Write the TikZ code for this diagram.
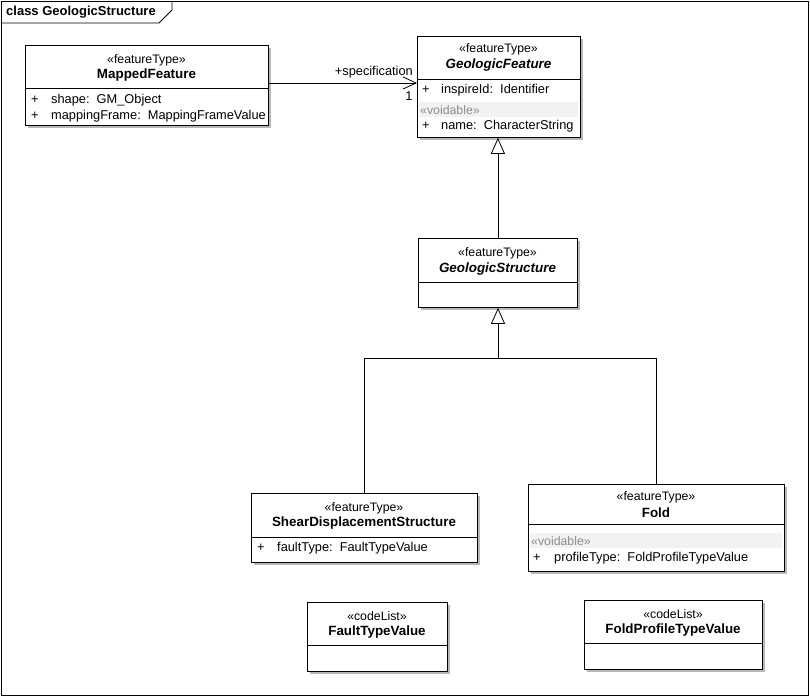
\documentclass[tikz,border=0pt]{standalone}
\usepackage{fontspec}
\setmainfont{Liberation Sans}
\usetikzlibrary{arrows.meta,shadows}
\begin{document}
\begin{tikzpicture}[x=1pt,y=-1pt,
  box/.style={draw=black, line width=0.8pt, fill=white, anchor=north west, inner sep=0pt,
    drop shadow={shadow xshift=3pt, shadow yshift=-3pt, fill=black!28, opacity=1}},
  txt/.style={inner sep=0pt, font=\fontsize{12.8}{14}\selectfont},
  ster/.style={inner sep=0pt, font=\fontsize{12.3}{14}\selectfont},
  cname/.style={txt, font=\fontsize{13.4}{15}\selectfont\bfseries},
  aname/.style={txt, font=\fontsize{13.4}{15}\selectfont\bfseries\itshape},
  attr/.style={txt, anchor=west},
  void/.style={ster, anchor=west, text=black!45},
  sep/.style={line width=0.8pt},
  gen/.style={line width=0.8pt, -{Triangle[open, length=16pt, width=14pt]}},
  assoc/.style={line width=0.8pt, -{Straight Barb[length=13pt, width=12pt]}},
  band/.style={fill=black!5, draw=none}
]
\useasboundingbox (0,0) rectangle (810,697);
% frame
\draw[line width=0.8pt] (1,1) rectangle (808,695);
\draw[line width=0.8pt] (1,23) -- (159,23) -- (172,10) -- (172,1);
\node[txt, anchor=west, font=\fontsize{13}{15}\selectfont\bfseries] (title) at (6,12) {class GeologicStructure};

% MappedFeature
\node[box, minimum width=243pt, minimum height=80pt] (mf) at (25,45) {};
\node[ster] (mfs) at (146.5,60) {«featureType»};
\node[cname] (mfn) at (146.5,75) {MappedFeature};
\draw[sep] (25,88) -- (268,88);
\node[attr] (mfp1) at (31,100) {+};
\node[attr] (mfa1) at (51,100) {shape:\ \ GM\_Object};
\node[attr] (mfp2) at (31,116) {+};
\node[attr] (mfa2) at (51,116) {mappingFrame:\ \ MappingFrameValue};

% GeologicFeature
\node[box, minimum width=163pt, minimum height=101pt] (gf) at (417,36) {};
\node[ster] (gfs) at (498.5,49) {«featureType»};
\node[aname] (gfn) at (498.5,65) {GeologicFeature};
\draw[sep] (417,79) -- (580,79);
\node[attr] (gfp1) at (422,90) {+};
\node[attr] (gfa1) at (441,90) {inspireId:\ \ Identifier};
\fill[band] (419,102) rectangle (578,117);
\node[void] (gfv) at (420,110) {«voidable»};
\node[attr] (gfp2) at (422,126) {+};
\node[attr] (gfa2) at (441,126) {name:\ \ CharacterString};

% GeologicStructure
\node[box, minimum width=159pt, minimum height=69pt] (gs) at (418,238) {};
\node[ster] (gss) at (497.5,253) {«featureType»};
\node[aname] (gsn) at (497.5,269) {GeologicStructure};
\draw[sep] (418,282) -- (577,282);

% ShearDisplacementStructure
\node[box, minimum width=226pt, minimum height=69pt] (sds) at (251,493) {};
\node[ster] (sdss) at (364,508) {«featureType»};
\node[cname] (sdsn) at (364,523) {ShearDisplacementStructure};
\draw[sep] (251,537) -- (477,537);
\node[attr] (sdsp) at (257,548) {+};
\node[attr] (sdsa) at (277,548) {faultType:\ \ FaultTypeValue};

% Fold
\node[box, minimum width=256pt, minimum height=87pt] (fold) at (528,484) {};
\node[ster] (folds) at (656,497) {«featureType»};
\node[cname] (foldn) at (656,513) {Fold};
\draw[sep] (528,524) -- (784,524);
\fill[band] (530,533) rectangle (782,548);
\node[void] (foldv) at (531,541) {«voidable»};
\node[attr] (foldp) at (533,558) {+};
\node[attr] (folda) at (554,558) {profileType:\ \ FoldProfileTypeValue};

% FaultTypeValue
\node[box, minimum width=140pt, minimum height=69pt] (ftv) at (307,602) {};
\node[ster] (ftvs) at (377,616) {«codeList»};
\node[cname] (ftvn) at (377,632) {FaultTypeValue};
\draw[sep] (307,645) -- (447,645);

% FoldProfileTypeValue
\node[box, minimum width=178pt, minimum height=69pt] (fptv) at (584,600) {};
\node[ster] (fptvs) at (673,614) {«codeList»};
\node[cname] (fptvn) at (673,630) {FoldProfileTypeValue};
\draw[sep] (584,643) -- (762,643);

% association
\coordinate (asrc) at (268,83);
\draw[assoc] (asrc) -- (asrc -| gf.west);
\node[txt, anchor=south east] (spec) at (413,78) {+specification};
\node[txt] (mult) at (409,96) {1};

% generalizations
\draw[gen] (gs.north) -- (gs.north |- gf.south);
\coordinate (j) at (498,358);
\draw[line width=0.8pt] (sds.north) |- (j) -| (fold.north);
\draw[gen] (j) -- (j |- gs.south);
\end{tikzpicture}
\end{document}
